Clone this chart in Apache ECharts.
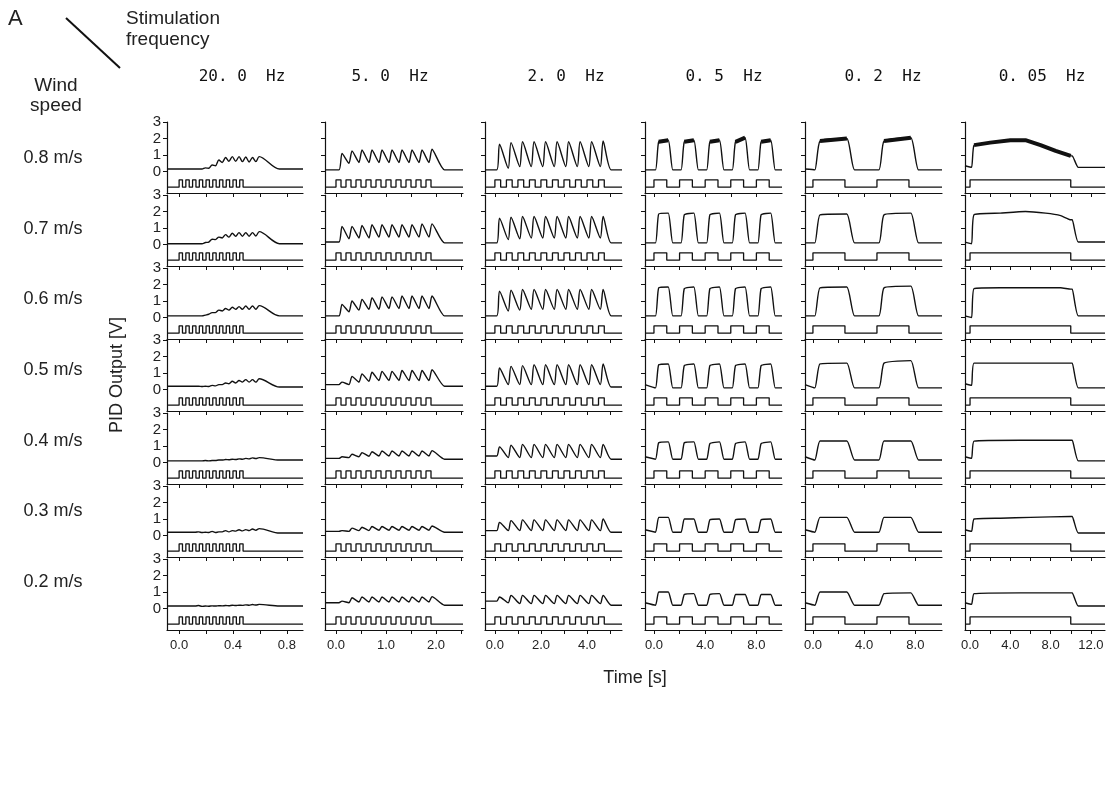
<!DOCTYPE html>
<html><head><meta charset="utf-8">
<script src="https://cdn.jsdelivr.net/npm/echarts@6/dist/echarts.min.js"></script>
<style>html,body{margin:0;padding:0;background:#fff}#c{width:1115px;height:803px}</style>
</head><body><div id="c"></div>
<script>
// ---------- labels ----------
const freqLabels = ['20. 0  Hz', '5. 0  Hz', '2. 0  Hz', '0. 5  Hz', '0. 2  Hz', '0. 05  Hz'];
const windLabels = ['0.8 m/s', '0.7 m/s', '0.6 m/s', '0.5 m/s', '0.4 m/s', '0.3 m/s', '0.2 m/s'];
const yTickLabels = [0, 1, 2, 3];

// ---------- x ticks / labels per column ----------
const xTicks20 = [0, 0.2, 0.4, 0.6, 0.8];      const xLabels20 = [0, 0.4, 0.8];
const xTicks5 = [0, 0.5, 1, 1.5, 2, 2.5];      const xLabels5 = [0, 1, 2];
const xTicks2 = [0, 1, 2, 3, 4, 5];            const xLabels2 = [0, 2, 4];
const xTicks05 = [0, 2, 4, 6, 8];              const xLabels05 = [0, 4, 8];
const xTicks02 = [0, 2, 4, 6, 8];              const xLabels02 = [0, 4, 8];
const xTicks005 = [0, 2, 4, 6, 8, 10, 12];     const xLabels005 = [0, 4, 8, 12];

// ---------- stimulus schedules (onset times, s) ----------
const stimOn20 = [0, 0.05, 0.1, 0.15, 0.2, 0.25, 0.3, 0.35, 0.4, 0.45];
const stimOn5 = [0, 0.2, 0.4, 0.6, 0.8, 1.0, 1.2, 1.4, 1.6, 1.8];
const stimOn2 = [0, 0.5, 1, 1.5, 2, 2.5, 3, 3.5, 4, 4.5];
const stimOn05 = [0, 2, 4, 6, 8];
const stimOn02 = [0, 5];
const stimOn005 = [0];
const stimDur = [0.025, 0.1, 0.25, 1, 2.5, 10];

// ---------- PID responses, rows = wind speed 0.8 ... 0.2 m/s ----------
// 20 Hz: [base, end], peaks, troughs
const hz20Base = [[0.15, 0.15], [0.05, 0.05], [0.1, 0.1], [0.2, 0.15], [0.1, 0.15], [0.2, 0.15], [0.15, 0.15]];
const hz20Peaks = [
  [0.15, 0.22, 0.4, 0.7, 0.85, 0.9, 0.9, 0.88, 0.85, 0.9],
  [0.05, 0.12, 0.32, 0.45, 0.6, 0.68, 0.72, 0.72, 0.72, 0.78],
  [0.1, 0.15, 0.3, 0.45, 0.55, 0.62, 0.66, 0.7, 0.7, 0.72],
  [0.2, 0.2, 0.25, 0.3, 0.4, 0.5, 0.55, 0.6, 0.6, 0.65],
  [0.1, 0.12, 0.12, 0.15, 0.18, 0.2, 0.22, 0.25, 0.28, 0.3],
  [0.22, 0.2, 0.25, 0.22, 0.3, 0.3, 0.35, 0.36, 0.4, 0.42],
  [0.18, 0.15, 0.16, 0.17, 0.18, 0.2, 0.2, 0.22, 0.24, 0.25]];
const hz20Troughs = [
  [0.15, 0.15, 0.2, 0.35, 0.55, 0.62, 0.62, 0.6, 0.58, 0.6],
  [0.05, 0.05, 0.15, 0.3, 0.4, 0.45, 0.5, 0.5, 0.5, 0.52],
  [0.1, 0.1, 0.2, 0.3, 0.4, 0.45, 0.5, 0.5, 0.5, 0.5],
  [0.2, 0.18, 0.18, 0.22, 0.3, 0.35, 0.4, 0.45, 0.45, 0.45],
  [0.1, 0.1, 0.1, 0.12, 0.15, 0.17, 0.18, 0.2, 0.22, 0.24],
  [0.2, 0.18, 0.18, 0.18, 0.22, 0.22, 0.27, 0.28, 0.3, 0.32],
  [0.15, 0.13, 0.14, 0.15, 0.16, 0.17, 0.18, 0.19, 0.2, 0.21]];

// 5 Hz
const hz5Base = [[0.1, 0.1], [0.15, 0.1], [0.1, 0.1], [0.3, 0.2], [0.25, 0.2], [0.25, 0.2], [0.35, 0.2]];
const hz5Peaks = [
  [1.1, 1.25, 1.3, 1.3, 1.3, 1.3, 1.3, 1.3, 1.3, 1.35],
  [1.1, 1.1, 1.15, 1.2, 1.2, 1.2, 1.2, 1.2, 1.25, 1.25],
  [0.8, 1.0, 1.1, 1.2, 1.25, 1.25, 1.3, 1.3, 1.3, 1.3],
  [0.45, 0.8, 0.95, 1.05, 1.1, 1.1, 1.15, 1.15, 1.15, 1.2],
  [0.35, 0.5, 0.6, 0.65, 0.7, 0.7, 0.7, 0.7, 0.7, 0.72],
  [0.3, 0.45, 0.5, 0.55, 0.55, 0.55, 0.55, 0.55, 0.55, 0.58],
  [0.45, 0.65, 0.7, 0.7, 0.7, 0.7, 0.7, 0.7, 0.7, 0.72]];
const hz5Troughs = [
  [0.1, 0.5, 0.55, 0.55, 0.55, 0.55, 0.55, 0.55, 0.55, 0.55],
  [0.15, 0.35, 0.4, 0.4, 0.45, 0.45, 0.45, 0.45, 0.45, 0.45],
  [0.1, 0.35, 0.45, 0.5, 0.5, 0.55, 0.55, 0.55, 0.55, 0.55],
  [0.3, 0.3, 0.45, 0.5, 0.55, 0.55, 0.55, 0.55, 0.55, 0.55],
  [0.25, 0.3, 0.35, 0.38, 0.4, 0.4, 0.4, 0.4, 0.4, 0.4],
  [0.25, 0.25, 0.3, 0.3, 0.32, 0.32, 0.32, 0.32, 0.32, 0.32],
  [0.35, 0.35, 0.4, 0.4, 0.4, 0.4, 0.4, 0.4, 0.4, 0.4]];

// 2 Hz
const hz2Base = [[0.1, 0.1], [0.1, 0.1], [0.1, 0.1], [0.2, 0.15], [0.4, 0.2], [0.3, 0.2], [0.45, 0.2]];
const hz2Peaks = [
  [1.65, 1.75, 1.8, 1.8, 1.8, 1.8, 1.8, 1.8, 1.8, 1.85],
  [1.6, 1.65, 1.7, 1.7, 1.7, 1.7, 1.7, 1.7, 1.7, 1.7],
  [1.6, 1.65, 1.7, 1.7, 1.7, 1.7, 1.7, 1.7, 1.7, 1.7],
  [1.3, 1.4, 1.45, 1.5, 1.5, 1.5, 1.5, 1.5, 1.5, 1.55],
  [0.95, 1.05, 1.1, 1.1, 1.1, 1.1, 1.1, 1.1, 1.1, 1.1],
  [0.8, 0.9, 0.95, 0.95, 0.95, 0.95, 0.95, 0.95, 0.95, 1.0],
  [0.7, 0.8, 0.8, 0.8, 0.8, 0.8, 0.8, 0.8, 0.8, 0.8]];
const hz2Troughs = [
  [0.1, 0.2, 0.3, 0.3, 0.3, 0.3, 0.3, 0.3, 0.3, 0.3],
  [0.1, 0.3, 0.35, 0.4, 0.4, 0.4, 0.4, 0.4, 0.4, 0.4],
  [0.1, 0.4, 0.45, 0.5, 0.5, 0.5, 0.5, 0.5, 0.5, 0.5],
  [0.2, 0.3, 0.3, 0.3, 0.3, 0.3, 0.3, 0.3, 0.3, 0.3],
  [0.4, 0.3, 0.3, 0.3, 0.3, 0.3, 0.3, 0.3, 0.3, 0.3],
  [0.3, 0.3, 0.3, 0.3, 0.3, 0.3, 0.3, 0.3, 0.3, 0.3],
  [0.45, 0.35, 0.3, 0.3, 0.3, 0.3, 0.3, 0.3, 0.3, 0.3]];

// 0.5 Hz: [pre, base], plateau start / end per pulse
const hz05Base = [[0.1, 0.1], [0.1, 0.1], [0.1, 0.1], [0.3, 0.1], [0.35, 0.2], [0.35, 0.2], [0.35, 0.2]];
const hz05Start = [
  [1.8, 1.8, 1.8, 1.8, 1.8], [1.85, 1.8, 1.8, 1.8, 1.8], [1.8, 1.75, 1.75, 1.75, 1.75],
  [1.5, 1.45, 1.45, 1.45, 1.45], [1.2, 1.2, 1.15, 1.15, 1.15], [1.1, 1.0, 0.95, 0.95, 0.95],
  [1.0, 0.85, 0.85, 0.85, 0.85]];
const hz05End = [
  [1.9, 1.9, 1.9, 2.05, 1.9], [1.9, 1.9, 1.9, 1.9, 1.9], [1.85, 1.85, 1.85, 1.85, 1.85],
  [1.55, 1.55, 1.55, 1.55, 1.55], [1.25, 1.25, 1.25, 1.25, 1.25], [1.1, 1.0, 1.0, 1.0, 1.0],
  [1.0, 0.9, 0.9, 0.85, 0.85]];

// 0.2 Hz
const hz02Base = [[0.15, 0.1], [0.1, 0.1], [0.1, 0.1], [0.3, 0.1], [0.35, 0.15], [0.35, 0.2], [0.35, 0.2]];
const hz02Start = [[1.85, 1.85], [1.8, 1.8], [1.8, 1.8], [1.55, 1.6], [1.3, 1.3], [1.1, 1.1], [1.0, 0.9]];
const hz02End = [[2.0, 2.05], [1.85, 1.9], [1.85, 1.9], [1.6, 1.75], [1.3, 1.3], [1.1, 1.1], [1.0, 0.95]];

// 0.05 Hz: [pre, after], plateau points [t, V]
const hz005Base = [[0.35, 0.25], [0.15, 0.15], [0.1, 0.1], [0.35, 0.1], [0.35, 0.1], [0.35, 0.15], [0.35, 0.15]];
const hz005Plateau = [
  [[0.4, 1.6], [2, 1.75], [4, 1.9], [5.5, 1.9], [7, 1.6], [8.5, 1.25], [10, 0.95]],
  [[0.4, 1.8], [3, 1.9], [5.5, 2.0], [7.5, 1.9], [9, 1.75], [10, 1.5]],
  [[0.4, 1.75], [3, 1.8], [6, 1.8], [9, 1.8], [10, 1.72]],
  [[0.4, 1.6], [5, 1.6], [10, 1.6]],
  [[0.4, 1.3], [5, 1.35], [10, 1.35]],
  [[0.4, 1.0], [3, 1.05], [6, 1.1], [10, 1.15]],
  [[0.4, 0.9], [5, 0.95], [10, 0.95]]];

// ---------- layout ----------
const colLeft = [167, 325, 485, 645, 805, 965];
const colWidth = [136, 138, 137, 137, 137, 140];
const xRange = [[-0.09, 0.92], [-0.22, 2.54], [-0.43, 5.52], [-0.7, 10.0], [-0.62, 10.08], [-0.5, 13.4]];
const rowTop0 = 122, rowStep = 72.8, rowH = 71;
const yMin = -1.3, yMax = 3;
const stimLow = -0.95, stimHigh = -0.5;

const stimOns = [stimOn20, stimOn5, stimOn2, stimOn05, stimOn02, stimOn005];
const xTicks = [xTicks20, xTicks5, xTicks2, xTicks05, xTicks02, xTicks005];
const xLabels = [xLabels20, xLabels5, xLabels2, xLabels05, xLabels02, xLabels005];
const delay = [0.12, 0.06, 0.08, 0.12, 0.15, 0.15];
const riseT = [0.025, 0.06, 0.12, 0.25, 0.4, 0.4];
const decayT = [0.15, 0.25, 0.35, 0.35, 0.6, 0.6];
const smoothness = [0.3, 0.2, 0.25, 0.15, 0.15, 0.15];

function stimTrace(c) {
  const [x0, x1] = xRange[c];
  const pts = [[x0, stimLow]];
  stimOns[c].forEach(t => {
    pts.push([t, stimLow], [t, stimHigh], [t + stimDur[c], stimHigh], [t + stimDur[c], stimLow]);
  });
  pts.push([x1, stimLow]);
  return pts;
}
function oscTrace(c, base, peaks, troughs) {
  const [x0, x1] = xRange[c];
  const on = stimOns[c], d = delay[c], n = on.length;
  const pts = [[x0, base[0]], [on[0] + d, base[0]]];
  for (let k = 0; k < n; k++) {
    pts.push([on[k] + d + riseT[c], peaks[k]]);
    if (k < n - 1) pts.push([on[k + 1] + d, troughs[k + 1]]);
  }
  pts.push([on[n - 1] + d + riseT[c] + decayT[c], base[1]], [x1, base[1]]);
  return pts;
}
function sqTrace(c, base, starts, ends) {
  const [x0, x1] = xRange[c];
  const on = stimOns[c], d = delay[c];
  const pts = [[x0, base[0]]];
  on.forEach((t, k) => {
    pts.push([t + d, base[1]], [t + d + riseT[c], starts[k]], [t + stimDur[c] + d, ends[k]],
             [t + stimDur[c] + d + decayT[c], base[1]]);
  });
  pts.push([x1, base[1]]);
  return pts;
}
function sqNoise(c, starts, ends) {
  const on = stimOns[c], d = delay[c];
  const pts = [];
  on.forEach((t, k) => { pts.push([t + d + riseT[c], starts[k]], [t + stimDur[c] + d, ends[k]], [null, null]); });
  return pts;
}
function longTrace(c, base, plateau) {
  const [x0, x1] = xRange[c];
  const d = delay[c], dur = stimDur[c];
  const pts = [[x0, base[0]], [d, base[0] - 0.1]];
  plateau.forEach(p => pts.push(p));
  pts.push([dur + d, plateau[plateau.length - 1][1]], [dur + d + decayT[c], base[1]], [x1, base[1]]);
  return pts;
}

const grids = [], xAxes = [], yAxes = [], series = [];
const lineCol = '#111';
for (let r = 0; r < 7; r++) {
  for (let c = 0; c < 6; c++) {
    const g = grids.length;
    grids.push({left: colLeft[c], top: Math.round(rowTop0 + r * rowStep), width: colWidth[c], height: rowH});
    xAxes.push({
      type: 'value', gridIndex: g, min: xRange[c][0], max: xRange[c][1],
      axisLine: {show: true, onZero: false, lineStyle: {color: lineCol, width: 1.2}},
      axisTick: {show: true, length: 4, customValues: xTicks[c], lineStyle: {color: lineCol, width: 1}},
      axisLabel: {show: r === 6, customValues: xLabels[c], formatter: v => Number(v).toFixed(1),
        fontFamily: 'Liberation Sans', fontSize: 13, color: '#222', margin: 9},
      splitLine: {show: false}
    });
    yAxes.push({
      type: 'value', gridIndex: g, min: yMin, max: yMax,
      axisLine: {show: true, onZero: false, lineStyle: {color: lineCol, width: 1.2}},
      axisTick: {show: true, length: 4, customValues: yTickLabels, lineStyle: {color: lineCol, width: 1}},
      axisLabel: {show: c === 0, customValues: yTickLabels, formatter: v => String(v),
        fontFamily: 'Liberation Sans', fontSize: 15, color: '#222', margin: 6},
      splitLine: {show: false}
    });
    const common = {type: 'line', xAxisIndex: g, yAxisIndex: g, showSymbol: false, silent: true, animation: false};
    series.push(Object.assign({}, common, {data: stimTrace(c), lineStyle: {color: lineCol, width: 1.3}}));
    let pid, noise = null;
    if (c === 0) pid = oscTrace(c, hz20Base[r], hz20Peaks[r], hz20Troughs[r]);
    else if (c === 1) pid = oscTrace(c, hz5Base[r], hz5Peaks[r], hz5Troughs[r]);
    else if (c === 2) pid = oscTrace(c, hz2Base[r], hz2Peaks[r], hz2Troughs[r]);
    else if (c === 3) { pid = sqTrace(c, hz05Base[r], hz05Start[r], hz05End[r]); if (r === 0) noise = sqNoise(c, hz05Start[r], hz05End[r]); }
    else if (c === 4) { pid = sqTrace(c, hz02Base[r], hz02Start[r], hz02End[r]); if (r === 0) noise = sqNoise(c, hz02Start[r], hz02End[r]); }
    else { pid = longTrace(c, hz005Base[r], hz005Plateau[r]); if (r === 0) noise = hz005Plateau[r]; }
    series.push(Object.assign({}, common, {data: pid, smooth: smoothness[c], lineStyle: {color: lineCol, width: 1.4}}));
    if (noise) series.push(Object.assign({}, common, {data: noise, connectNulls: false, lineStyle: {color: lineCol, width: 4}}));
  }
}

const txt = (x, y, text, size, extra) => Object.assign({type: 'text', x: x, y: y, silent: true,
  style: Object.assign({text: text, fontFamily: 'Liberation Sans', fontSize: size, fill: '#222'}, extra || {})});
const graphics = [
  txt(8, 8, 'A', 22),
  {type: 'line', silent: true, shape: {x1: 66, y1: 18, x2: 120, y2: 68}, style: {stroke: '#111', lineWidth: 2}},
  txt(126, 8, 'Stimulation\nfrequency', 19, {lineHeight: 21}),
  txt(56, 76, 'Wind\nspeed', 19, {align: 'center', lineHeight: 20}),
  txt(117, 375, 'PID Output [V]', 18, {align: 'center', verticalAlign: 'middle'}),
  txt(635, 678, 'Time [s]', 18, {align: 'center', verticalAlign: 'middle'})
];
graphics[4].rotation = Math.PI / 2;
const titleX = [242, 390, 566, 724, 883, 1042];
freqLabels.forEach((s, c) => graphics.push(txt(titleX[c], 77, s, 16,
  {align: 'center', verticalAlign: 'middle', fontFamily: 'DejaVu Sans Mono', fill: '#111'})));
windLabels.forEach((s, r) => graphics.push(txt(53, 158 + r * 70.7, s, 18,
  {align: 'center', verticalAlign: 'middle'})));

const chart = echarts.init(document.getElementById('c'), null, {renderer: 'canvas', width: 1115, height: 803});
chart.setOption({
  backgroundColor: '#fff', animation: false,
  grid: grids, xAxis: xAxes, yAxis: yAxes, series: series, graphic: graphics
});
</script></body></html>
